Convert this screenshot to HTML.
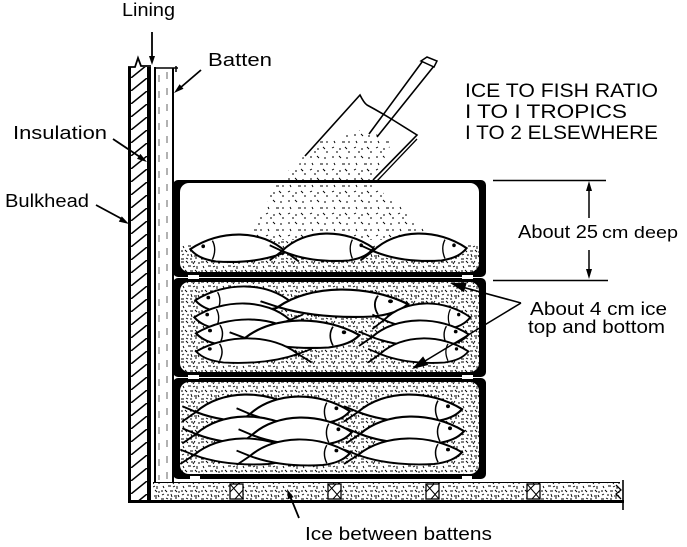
<!DOCTYPE html>
<html><head><meta charset="utf-8"><style>
html,body{margin:0;padding:0;background:#fff;}
svg{display:block;}
text{font-family:"Liberation Sans",Arial,sans-serif;fill:#000;}
</style></head><body>
<svg width="687" height="547" viewBox="0 0 687 547" xmlns="http://www.w3.org/2000/svg">
<defs>
<pattern id="ice" width="20" height="20" patternUnits="userSpaceOnUse">
<path d="M1,2h3 M6,1l2,2 M11,2h2 M15,1l-2,3 M18,3h2 M3,6l1,2 M8,6h3 M13,7l2,-1 M17,6v3 M1,11h2 M5,10l2,2 M10,11h3 M15,10l2,2 M19,11v2 M2,15l2,-1 M7,15h2 M11,14l1,3 M14,16h3 M18,15l1,2 M1,19h3 M6,18l2,1 M10,19h2 M15,18h2" stroke="#000" stroke-width="0.95" fill="none"/>
</pattern>
<pattern id="icel" width="22" height="22" patternUnits="userSpaceOnUse">
<path d="M2,3h2 M9,2l2,2 M16,4h2 M4,9l1,2 M12,10h3 M19,9v2 M2,16l2,-1 M9,17h2 M15,15l2,2 M6,20h2 M18,20h2" stroke="#000" stroke-width="0.95" fill="none"/>
</pattern>
<pattern id="hatch" x="131" y="0" width="16" height="13" patternUnits="userSpaceOnUse">
<path d="M-2,14.6 L18,-1.6" stroke="#000" stroke-width="1.5"/>
</pattern>
<g id="f">
<path d="M0,0 C26,-24 72,-24 104,-3 C98,4 90,8 76,10 C44,12 20,8 0,0 Z" fill="#fff" stroke="#000" stroke-width="2.2"/>
<path d="M0,0 L-14,10 M0,0 L-14,-6" stroke="#000" stroke-width="2" fill="none"/>
<circle cx="90" cy="-6" r="2"/>
<path d="M80,-12 Q75,-3 80,8" fill="none" stroke="#000" stroke-width="1.5"/>
</g>
</defs>

<!-- Wall -->
<rect x="131" y="67" width="16" height="436" fill="url(#hatch)"/>
<rect x="128" y="67" width="3" height="436"/>
<rect x="147" y="67" width="4" height="436"/>
<rect x="154" y="67" width="2" height="416"/>
<rect x="172" y="68" width="2" height="414"/>
<path d="M159,75 V480 M167,72 V480" stroke="#000" stroke-width="1" stroke-dasharray="7 9" fill="none" opacity="0.6"/>
<path d="M128,67 H135 L138,58 L141,66 H151" stroke="#000" stroke-width="1.8" fill="none"/>
<path d="M156,68 H178 M176,66 V72" stroke="#000" stroke-width="1.5" fill="none"/>

<!-- Floor -->
<rect x="153" y="483" width="468" height="17" fill="url(#ice)"/>
<path d="M153,482.5 H620" stroke="#000" stroke-width="1"/>
<rect x="128" y="500" width="496" height="3"/>
<path d="M623,480 V510" stroke="#000" stroke-width="1.6"/>
<path d="M616,485 L621,490 L616,494 L621,499" stroke="#000" stroke-width="1.3" fill="none"/>
<g stroke="#000" stroke-width="1.3" fill="#fff">
<rect x="230" y="484" width="13" height="15"/><rect x="328" y="484" width="13" height="15"/><rect x="426" y="484" width="13" height="15"/><rect x="527" y="484" width="13" height="15"/>
</g>
<path d="M230,484 L243,499 M230,492 L238,484 M235,499 L243,490 M328,484 L341,499 M328,492 L336,484 M333,499 L341,490 M426,484 L439,499 M426,492 L434,484 M431,499 L439,490 M527,484 L540,499 M527,492 L535,484 M532,499 L540,490" stroke="#000" stroke-width="1"/>

<!-- Boxes -->
<rect x="173" y="180" width="313" height="97" rx="5"/>
<rect x="180" y="183" width="299" height="89" rx="9" fill="#fff"/>
<rect x="173" y="278" width="313" height="99" rx="5"/>
<rect x="180" y="282" width="299" height="90" rx="9" fill="#fff"/>
<rect x="180" y="282" width="299" height="90" rx="9" fill="url(#ice)"/>
<rect x="173" y="378" width="313" height="101" rx="5"/>
<rect x="180" y="382" width="299" height="92" rx="9" fill="#fff"/>
<rect x="180" y="382" width="299" height="92" rx="9" fill="url(#ice)"/>
<g fill="#fff">
<rect x="188" y="275" width="11" height="4"/><rect x="462" y="275" width="11" height="4"/>
<rect x="188" y="375" width="11" height="4"/><rect x="462" y="375" width="11" height="4"/>
<rect x="190" y="476" width="10" height="4"/><rect x="462" y="476" width="10" height="4"/>
</g>

<!-- Top box ice layer and pour -->
<path d="M181,246 Q260,238 330,243 T479,244 L479,266 Q479,272 472,272 L188,272 Q181,272 181,266 Z" fill="url(#ice)"/>
<path d="M274,184 L372,184 L400,206 L436,240 L240,240 L264,212 Z" fill="url(#icel)"/>
<path d="M300,160 L318,142 L340,138 L360,130 L378,135 L392,142 L375,178 L296,178 Z" fill="url(#icel)"/>
<path d="M288,170 L378,170 L373,182 L282,182 Z" fill="url(#icel)"/>

<!-- Shovel -->
<path d="M305,156 L360,95 Q364,103 367,105 Q380,112 393,120 L417,135 L373,180" stroke="#000" stroke-width="1.6" fill="none"/>
<path d="M417,139 L377,181" stroke="#000" stroke-width="1.3" fill="none"/>
<path d="M422,62 L369,134 M434,66 L377,137" stroke="#000" stroke-width="1.6" fill="none"/>
<path d="M421,61 L427,57 L437,61 L434,67 Z" fill="#fff" stroke="#000" stroke-width="1.5"/>

<!-- Fish top box -->
<use href="#f" transform="translate(286,252) scale(-0.92,0.95)"/>
<use href="#f" transform="translate(282,251) scale(0.88,0.95)"/>
<use href="#f" transform="translate(373,251) scale(0.9,0.95)"/>

<!-- Fish middle box -->
<use href="#f" transform="translate(292,303) scale(-0.93,0.9)"/>
<use href="#f" transform="translate(278,307) scale(1.25,0.95)"/>
<use href="#f" transform="translate(290,320) scale(-0.92,0.9)"/>
<use href="#f" transform="translate(384,320) scale(0.83,0.9)"/>
<use href="#f" transform="translate(300,336) scale(-1,0.9)"/>
<use href="#f" transform="translate(245,338) scale(1.1,0.95)"/>
<use href="#f" transform="translate(372,337) scale(0.93,0.9)"/>
<use href="#f" transform="translate(298,354) scale(-0.98,0.85)"/>
<use href="#f" transform="translate(380,354) scale(0.85,0.85)"/>

<!-- Fish bottom box -->
<use href="#f" transform="translate(196,412) scale(0.98,0.95)"/>
<use href="#f" transform="translate(250,414) scale(0.96,0.95)"/>
<use href="#f" transform="translate(358,412) scale(1.0,0.95)"/>
<use href="#f" transform="translate(196,434) scale(0.98,0.95)"/>
<use href="#f" transform="translate(252,435) scale(0.96,0.95)"/>
<use href="#f" transform="translate(360,434) scale(1.0,0.95)"/>
<use href="#f" transform="translate(194,455) scale(0.98,0.9)"/>
<use href="#f" transform="translate(250,456) scale(0.96,0.9)"/>
<use href="#f" transform="translate(358,455) scale(1.0,0.9)"/>

<!-- Dimension -->
<path d="M493,180.5 H606 M493,280.5 H608 M589,190 V218 M589,250 V270" stroke="#000" stroke-width="1.5" fill="none"/>
<path d="M586,191 L592,191 L589,181 Z M586,269 L592,269 L589,279 Z"/>

<!-- Arrows -->
<path d="M152,32 V57" stroke="#000" stroke-width="1.8"/>
<path d="M149,56 L155,56 L152,65 Z"/>
<path d="M201,70 L180,88" stroke="#000" stroke-width="1.8"/>
<path d="M183.5,88.8 L179.6,84.2 L174,93 Z"/>
<path d="M113,139 L140,157" stroke="#000" stroke-width="1.8"/>
<path d="M137,158.9 L140.4,153.9 L147,162 Z"/>
<path d="M96,205 L122,219" stroke="#000" stroke-width="1.8"/>
<path d="M118.8,221.6 L121.8,216.4 L129,224 Z"/>
<path d="M299,518 L290,496" stroke="#000" stroke-width="1.8"/>
<path d="M293.6,497.1 L288,499.3 L287,489 Z"/>
<path d="M521,303 L462,287 M521,303 L425,361" stroke="#000" stroke-width="1.6" fill="none"/>
<path d="M466.8,282.5 L464,292.1 L450,283 Z M428.3,365 L423.1,356.4 L412,369 Z"/>

<!-- Text -->
<text x="122" y="16" font-size="18" textLength="53" lengthAdjust="spacingAndGlyphs">Lining</text>
<text x="208" y="66" font-size="18" textLength="64" lengthAdjust="spacingAndGlyphs">Batten</text>
<text x="13" y="139" font-size="18" textLength="94" lengthAdjust="spacingAndGlyphs">Insulation</text>
<text x="5" y="207" font-size="18" textLength="84" lengthAdjust="spacingAndGlyphs">Bulkhead</text>
<text x="465" y="97" font-size="19" textLength="193" lengthAdjust="spacingAndGlyphs">ICE TO FISH RATIO</text>
<text x="465" y="118" font-size="19" textLength="162" lengthAdjust="spacingAndGlyphs">I TO I TROPICS</text>
<text x="465" y="139" font-size="19" textLength="193" lengthAdjust="spacingAndGlyphs">I TO 2 ELSEWHERE</text>
<text x="518" y="238" font-size="18" textLength="80" lengthAdjust="spacingAndGlyphs">About 25</text>
<text x="602" y="238" font-size="17" textLength="76" lengthAdjust="spacingAndGlyphs">cm deep</text>
<text x="530" y="315" font-size="18" textLength="137" lengthAdjust="spacingAndGlyphs">About 4 cm ice</text>
<text x="528" y="333" font-size="18" textLength="137" lengthAdjust="spacingAndGlyphs">top and bottom</text>
<text x="305" y="540" font-size="18" textLength="187" lengthAdjust="spacingAndGlyphs">Ice between battens</text>
</svg>
</body></html>
